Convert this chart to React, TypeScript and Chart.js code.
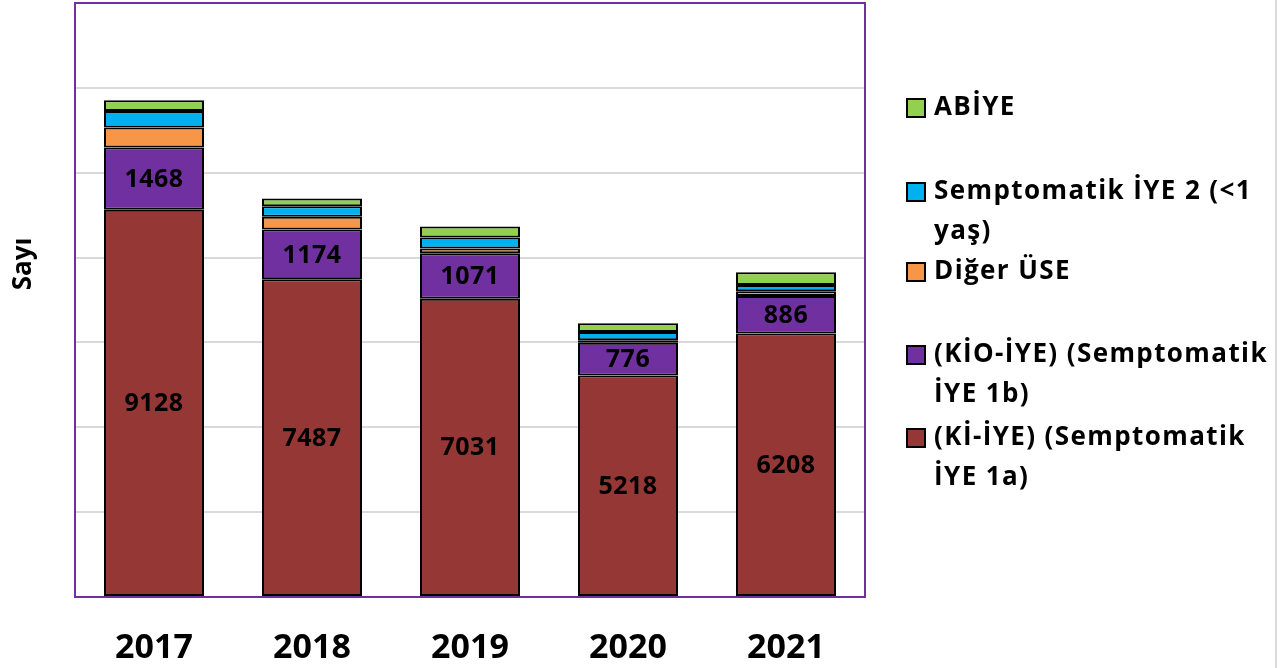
import React, { useEffect, useRef } from "react";
import { Chart, registerables } from "chart.js";

Chart.register(...registerables);

const categories = ["2017", "2018", "2019", "2020", "2021"];
const kiIye = [9128, 7487, 7031, 5218, 6208];
const kioIye = [1468, 1174, 1071, 776, 886];
const digerUse = [470, 300, 110, 60, 110];
const semptomatik2 = [390, 250, 260, 190, 150];
const abiye = [250, 180, 260, 210, 300];

const seriesNames = [
  "(Kİ-İYE) (Semptomatik İYE 1a)",
  "(KİO-İYE) (Semptomatik İYE 1b)",
  "Diğer ÜSE",
  "Semptomatik İYE 2 (<1 yaş)",
  "ABİYE",
];
const seriesColors = ["#953735", "#7030A0", "#F79646", "#00B0F0", "#92D050"];

// legend entries, top to bottom (wrapped lines)
const legendLines = [
  ["ABİYE"],
  ["Semptomatik İYE 2 (<1", "yaş)"],
  ["Diğer ÜSE"],
  ["(KİO-İYE) (Semptomatik", "İYE 1b)"],
  ["(Kİ-İYE) (Semptomatik", "İYE 1a)"],
];
const legendColors = ["#92D050", "#00B0F0", "#F79646", "#7030A0", "#953735"];
const legendY = [108, 192, 272, 355, 438];

const yTitle = "Sayı";
const FONT = "'Open Sans', 'DejaVu Sans', sans-serif";

export default function App() {
  const ref = useRef<HTMLCanvasElement | null>(null);

  useEffect(() => {
    if (!ref.current) return;
    const values = [kiIye, kioIye, digerUse, semptomatik2, abiye];

    const customPlugin = {
      id: "custom",
      afterDatasetsDraw(chart: any) {
        const ctx = chart.ctx;
        const area = chart.chartArea;
        ctx.save();
        // labels for first two series
        ctx.font = `bold 25px ${FONT}`;
        (ctx as any).letterSpacing = "0.5px";
        ctx.fillStyle = "#000";
        ctx.textAlign = "center";
        ctx.textBaseline = "middle";
        [0, 1].forEach((di) => {
          const meta = chart.getDatasetMeta(di);
          meta.data.forEach((bar: any, i: number) => {
            const p = bar.getProps(["x", "y", "base"], true);
            ctx.fillText(String(values[di][i]), p.x, (p.y + p.base) / 2 + 1);
          });
        });
        (ctx as any).letterSpacing = "0px";
        // plot border
        ctx.strokeStyle = "#7030A0";
        ctx.lineWidth = 2;
        ctx.strokeRect(area.left, area.top, area.right - area.left, area.bottom - area.top);
        // y title
        ctx.translate(24, 264);
        ctx.rotate(-Math.PI / 2);
        ctx.font = `bold 26px ${FONT}`;
        ctx.fillText(yTitle, 0, 0);
        ctx.restore();

        // legend
        ctx.save();
        ctx.font = `bold 26px ${FONT}`;
        (ctx as any).letterSpacing = "1.4px";
        ctx.textAlign = "left";
        ctx.textBaseline = "middle";
        legendLines.forEach((lines, k) => {
          const y = legendY[k];
          ctx.fillStyle = legendColors[k];
          ctx.fillRect(907, y - 9, 18, 18);
          ctx.strokeStyle = "#000";
          ctx.lineWidth = 2;
          ctx.strokeRect(907, y - 9, 18, 18);
          ctx.fillStyle = "#000";
          lines.forEach((t, j) => ctx.fillText(t, 934, y + j * 40));
        });
        (ctx as any).letterSpacing = "0px";
        // right frame line
        ctx.strokeStyle = "#d9d9d9";
        ctx.lineWidth = 2;
        ctx.beginPath();
        ctx.moveTo(1276, 0);
        ctx.lineTo(1276, 668);
        ctx.stroke();
        ctx.restore();
      },
    };

    const chart = new Chart(ref.current, {
      type: "bar",
      data: {
        labels: categories,
        datasets: values.map((v, i) => ({
          label: seriesNames[i],
          data: v,
          backgroundColor: seriesColors[i],
          borderColor: "#000",
          borderWidth: 2,
          borderSkipped: false,
          categoryPercentage: 1,
          barPercentage: 0.633,
        })),
      },
      options: {
        responsive: false,
        animation: false,
        layout: { padding: { top: 3, right: 423, left: 0, bottom: 0 } },
        plugins: { legend: { display: false }, tooltip: { enabled: false } },
        scales: {
          x: {
            stacked: true,
            grid: { display: false, drawTicks: false },
            border: { display: false },
            ticks: {
              color: "#000",
              font: { family: FONT, size: 34, weight: "bold" },
              padding: 31,
            },
            afterFit: (s: any) => {
              s.height = 71;
            },
          },
          y: {
            stacked: true,
            min: 0,
            max: 14000,
            ticks: { display: false, stepSize: 2000 },
            grid: { color: "#d9d9d9", lineWidth: 2, drawTicks: false },
            border: { display: false },
            afterFit: (s: any) => {
              s.width = 75;
            },
          },
        },
      },
      plugins: [customPlugin],
    } as any);
    return () => chart.destroy();
  }, []);

  return (
    <div style={{ position: "fixed", left: 0, top: 0, width: 1288, height: 668, background: "#fff" }}>
      <canvas ref={ref} width={1288} height={668} style={{ display: "block" }} />
    </div>
  );
}
